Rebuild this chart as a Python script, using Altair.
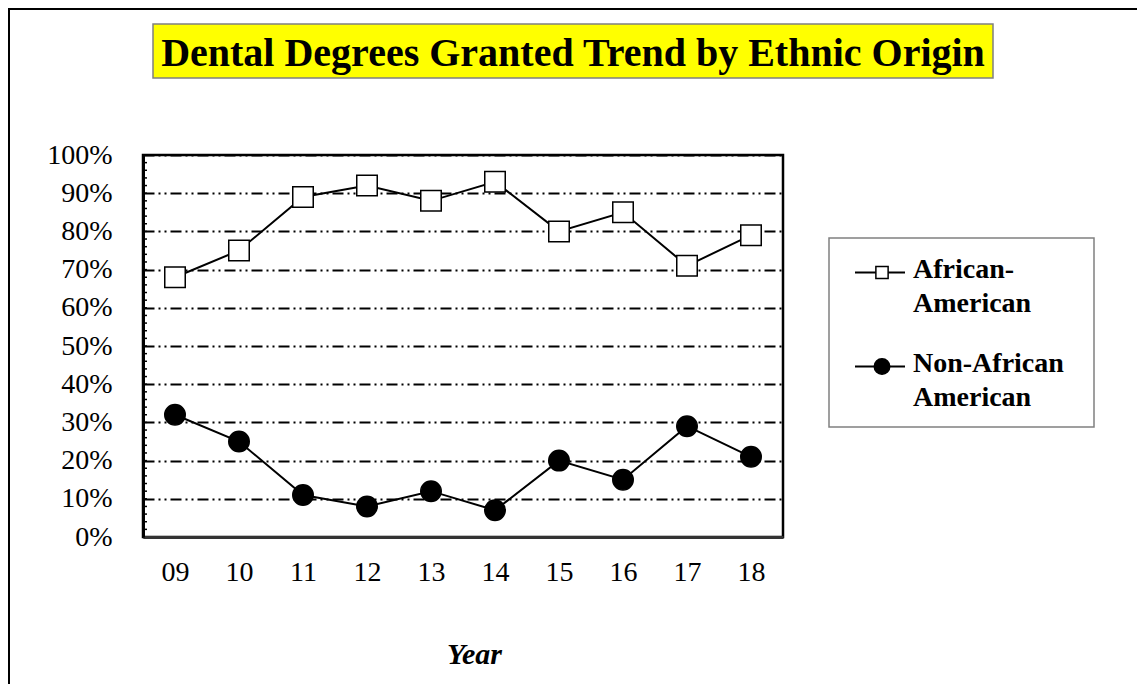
import altair as alt
import pandas as pd

# ---- data ----
YEARS = ["09", "10", "11", "12", "13", "14", "15", "16", "17", "18"]
AFRICAN_AMERICAN = [68, 75, 89, 92, 88, 93, 80, 85, 71, 79]
NON_AFRICAN_AMERICAN = [32, 25, 11, 8, 12, 7, 20, 15, 29, 21]
SERIES = ["African-American", "Non-African American"]
Y_TICKS = [0, 0.1, 0.2, 0.3, 0.4, 0.5, 0.6, 0.7, 0.8, 0.9, 1.0]
MINOR_TICKS = [i / 50 for i in range(1, 50)]
TITLE = "Dental Degrees Granted Trend by Ethnic Origin"
X_TITLE = "Year"

rows = []
for name, vals in zip(SERIES, [AFRICAN_AMERICAN, NON_AFRICAN_AMERICAN]):
    for yr, v in zip(YEARS, vals):
        rows.append({"Year": yr, "Series": name, "Share": v / 100})
df = pd.DataFrame(rows)
minor_df = pd.DataFrame({"Share": MINOR_TICKS})

FONT = "Liberation Serif"
W, H = 640, 382

x = alt.X(
    "Year:O", sort=YEARS, scale=alt.Scale(type="point", padding=0.5),
    axis=alt.Axis(title=X_TITLE, labelAngle=0, ticks=False, grid=False, labelPadding=21,
                  labelFont=FONT, labelFontSize=28, labelColor="black",
                  titleFont=FONT, titleFontSize=30, titleFontWeight="bold",
                  titleFontStyle="italic", titleColor="black", titleX=331, titleY=126,
                  titleBaseline="alphabetic", domainColor="#333333", domainWidth=3))
y = alt.Y(
    "Share:Q", scale=alt.Scale(domain=[0, 1], nice=False),
    axis=alt.Axis(title=None, values=Y_TICKS, format="%", ticks=False, labelPadding=31,
                  labelFont=FONT, labelFontSize=28, labelColor="black",
                  grid=True, gridColor="black", gridWidth=2, gridDash=[11, 4, 2, 4, 2, 4],
                  domainColor="black", domainWidth=3))

one = alt.Data(values=[{"k": 1}])

frame = alt.Chart(one).mark_rect(filled=False, stroke="black", strokeWidth=3).encode(
    x=alt.value(-134.5), x2=alt.value(1100), y=alt.value(-146.5), y2=alt.value(700))
title_box = alt.Chart(one).mark_rect(fill="#FFFF00", stroke="#808080", strokeWidth=1.5).encode(
    x=alt.value(10), x2=alt.value(850), y=alt.value(-131), y2=alt.value(-77))
title_text = alt.Chart(one).mark_text(font=FONT, fontSize=40, fontWeight="bold", color="black",
                                      align="center", baseline="alphabetic").encode(
    x=alt.value(430), y=alt.value(-89), text=alt.value(TITLE))

minor = alt.Chart(minor_df).mark_rule(color="black", strokeWidth=1.5).encode(
    y=y, x=alt.value(0), x2=alt.value(4))

lines = alt.Chart(df).mark_line(color="black", strokeWidth=2).encode(
    x=x, y=y, detail="Series:N")

points = alt.Chart(df).mark_point(filled=True, stroke="black", strokeWidth=1.5, opacity=1, size=420).encode(
    x=x, y=y,
    shape=alt.Shape("Series:N", scale=alt.Scale(domain=SERIES, range=["square", "circle"]), legend=None),
    fill=alt.Fill("Series:N", scale=alt.Scale(domain=SERIES, range=["white", "black"]), legend=None),
)

# ---- legend (drawn as marks) ----
def split_label(s):
    if " " in s:
        a, b = s.split(" ", 1)
        return [a, b]
    i = s.index("-") + 1
    return [s[:i], s[i:]]

legend_box = alt.Chart(one).mark_rect(fill="white", stroke="#808080", strokeWidth=1.5).encode(
    x=alt.value(686), x2=alt.value(951), y=alt.value(83), y2=alt.value(272))

legend_layers = [legend_box]
LEG_Y = [117.5, 211.5]
LEG_SHAPE = ["square", "circle"]
LEG_FILL = ["white", "black"]
LEG_SIZE = [150, 240]
for i, name in enumerate(SERIES):
    legend_layers.append(alt.Chart(one).mark_rule(color="black", strokeWidth=2).encode(
        x=alt.value(712), x2=alt.value(762), y=alt.value(LEG_Y[i])))
    legend_layers.append(alt.Chart(one).mark_point(
        shape=LEG_SHAPE[i], filled=True, fill=LEG_FILL[i], stroke="black", strokeWidth=1.5,
        opacity=1, size=LEG_SIZE[i]).encode(x=alt.value(739), y=alt.value(LEG_Y[i])))
    legend_layers.append(alt.Chart(one).mark_text(
        font=FONT, fontSize=28, fontWeight="bold", color="black", align="left",
        baseline="alphabetic", lineHeight=34).encode(
        x=alt.value(770), y=alt.value(LEG_Y[i] + 5.5), text=alt.value(split_label(name))))

chart = alt.layer(frame, title_box, title_text, *legend_layers, minor, lines, points).properties(
    width=W, height=H,
    autosize=alt.AutoSizeParams(type="none"),
    padding={"left": 135, "top": 147, "right": 354, "bottom": 147},
    background="white",
).configure_view(stroke="black", strokeWidth=2.5)

chart.save("out.html", embed_options={"renderer": "svg", "actions": False})
